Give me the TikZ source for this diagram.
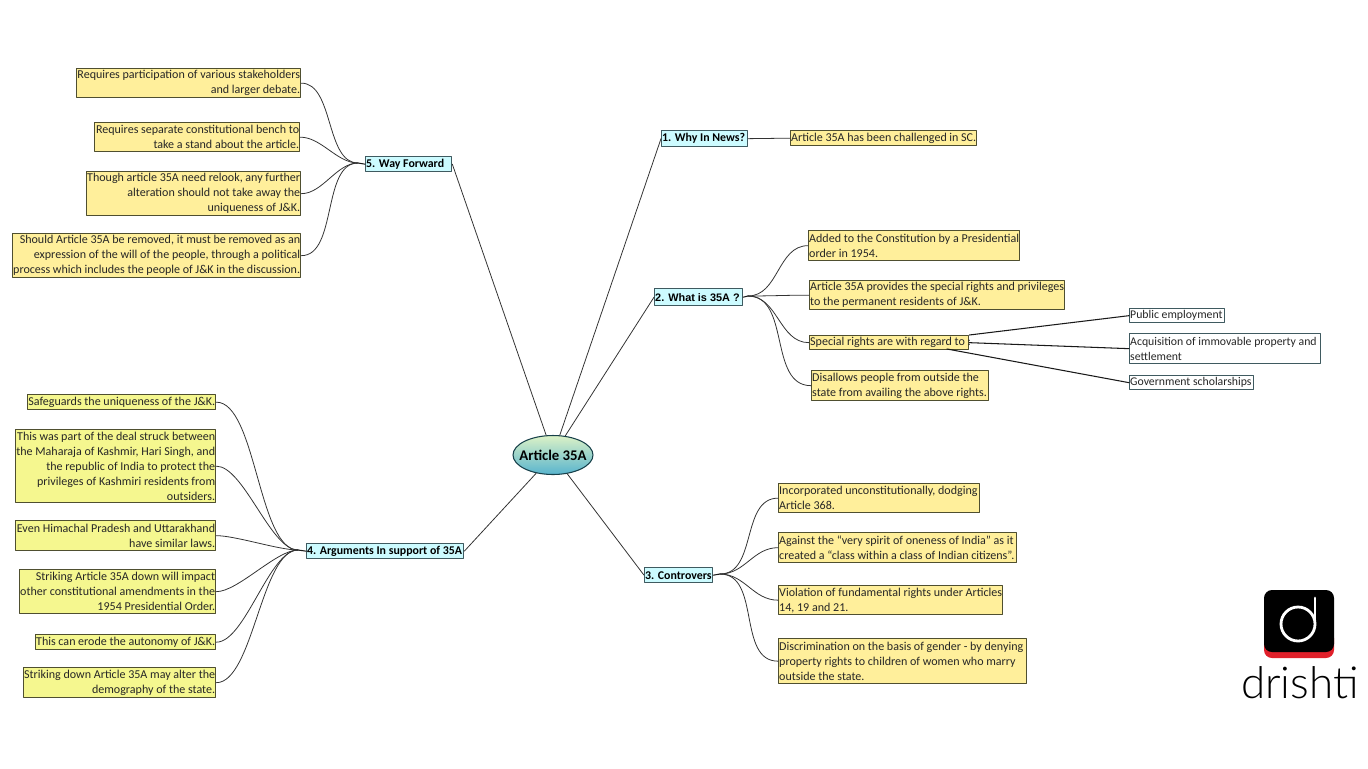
\documentclass[tikz,border=0pt]{standalone}
\usepackage{fontspec}
\usetikzlibrary{shapes.geometric}
\setmainfont{Carlito}
\newfontfamily\arialfont{Liberation Sans}
\newfontfamily\logofont[UprightFont=* Light]{Lato}
\begin{document}
\begin{tikzpicture}[x=0.02cm,y=-0.02cm,line join=round,line cap=round]
	\definecolor{note edge}{HTML}{4F4F30}
	\definecolor{warm note}{HTML}{FFEF9B}
	\definecolor{lime note}{HTML}{F5F78F}
	\definecolor{hub fill}{HTML}{CCFBFF}
	\definecolor{hub edge}{HTML}{3F5A60}
	\definecolor{root edge}{HTML}{17404A}
	\definecolor{root top}{HTML}{DCF2C6}
	\definecolor{root bottom}{HTML}{58B4CE}
	\definecolor{logo red}{HTML}{E0202A}
	\tikzset{sized/.style 2 args={text width=#1*0.02cm-0.6pt,minimum height=#2*0.02cm,anchor=north west,inner sep=0.3pt},
		note/.style={draw=note edge,line width=0.75pt,text=black!85,font=\fontsize{6.85}{8.5}\selectfont},
		warm/.style={note,fill=warm note,align=flush left},
		warmr/.style={note,fill=warm note,align=flush right},
		lime/.style={note,fill=lime note,align=flush right},
		plain/.style={draw=hub edge,line width=0.75pt,fill=white,align=flush left,text=black!85,font=\fontsize{6.7}{8.5}\selectfont},
		hub/.style={draw=hub edge,line width=0.75pt,fill=hub fill,align=flush left,font=\fontsize{6.75}{8}\selectfont\bfseries},
		branch/.style={black!80,line width=0.45pt},
		twig/.style={black!90,line width=0.6pt}}
	\node[draw=root edge,line width=0.6pt,ellipse,minimum width=80*0.02cm,minimum height=39*0.02cm,inner xsep=-0.125cm,inner ysep=0pt,top color=root top,bottom color=root bottom,font=\fontsize{8.4}{9}\selectfont\bfseries] (root) at (553,455) {Article 35A};
	% hubs
	\node[hub,sized={86}{15}] (wf) at (365,156) {5. Way Forward};
	\node[hub,sized={86}{16}] (news) at (661,130) {1. Why In News?};
	\node[hub,sized={88}{17},font=\arialfont\fontsize{6.2}{8}\selectfont\bfseries] (what) at (654,288) {2. What is 35A ?};
	\node[hub,sized={68}{15}] (contr) at (644,567) {3. Controvers};
	\node[hub,sized={157}{15}] (args) at (306,543) {4. Arguments In support of 35A};
	% joins
	\coordinate (wfjoin) at (358,163);
	\coordinate (whatjoin) at (748,296);
	\coordinate (contrjoin) at (720,574);
	\coordinate (argsjoin) at (298,550);
	\coordinate (specfoot) at (947,349);
	% way forward
	\node[warmr,sized={224}{29}] (wfa) at (76,68) {Requires participation of various stakeholders\\and larger debate.};
	\node[warmr,sized={205}{29}] (wfb) at (94,122) {Requires separate constitutional bench to\\take a stand about the article.};
	\node[warmr,sized={214}{44}] (wfc) at (86,171) {Though article 35A need relook, any further\\alteration should not take away the\\uniqueness of J\&K.};
	\node[warmr,sized={288}{44}] (wfd) at (12,233) {Should Article 35A be removed, it must be removed as an\\expression of the will of the people, through a political\\process which includes the people of J\&K in the discussion.};
	% news
	\node[warm,sized={186}{15}] (newsa) at (790,130) {Article 35A has been challenged in SC.};
	% what is
	\node[warm,sized={211}{30}] (whata) at (808,230) {Added to the Constitution by a Presidential\\order in 1954.};
	\node[warm,sized={255}{29}] (whatb) at (809,280) {Article 35A provides the special rights and privileges\\to the permanent residents of J\&K.};
	\node[warm,sized={159}{14}] (whatc) at (809,335) {\mbox{Special rights are with regard to :}};
	\node[warm,sized={177}{30}] (whatd) at (811,370) {Disallows people from outside the\\state from availing the above rights.};
	\node[plain,sized={95}{14}] (pub) at (1129,308) {\mbox{Public employment}};
	\node[plain,sized={191}{30}] (acq) at (1129,333) {Acquisition of immovable property and\\settlement};
	\node[plain,sized={124}{14}] (gov) at (1129,375) {\mbox{Government scholarships}};
	% controversy
	\node[warm,sized={201}{29}] (cona) at (778,483) {Incorporated unconstitutionally, dodging\\Article 368.};
	\node[warm,sized={238}{30}] (conb) at (778,532) {Against the “very spirit of oneness of India” as it\\created a “class within a class of Indian citizens”.};
	\node[warm,sized={224}{29}] (conc) at (778,585) {Violation of fundamental rights under Articles\\14, 19 and 21.};
	\node[warm,sized={248}{45}] (cond) at (778,638) {Discrimination on the basis of gender -  by denying\\property rights to children of women who marry\\outside the state.};
	% arguments
	\node[lime,sized={188}{15}] (arga) at (27,394) {Safeguards the uniqueness of the J\&K.};
	\node[lime,sized={200}{73}] (argb) at (15,429) {This was part of the deal struck between\\the Maharaja of Kashmir, Hari Singh, and\\the republic of India to protect the\\privileges of Kashmiri residents from\\outsiders.};
	\node[lime,sized={200}{30}] (argc) at (15,520) {Even Himachal Pradesh and Uttarakhand\\have similar laws.};
	\node[lime,sized={196}{44}] (argd) at (19,569) {Striking Article 35A down will impact\\other constitutional amendments in the\\1954 Presidential Order.};
	\node[lime,sized={180}{15}] (arge) at (35,634) {This can erode the autonomy of J\&K.};
	\node[lime,sized={192}{30}] (argf) at (23,667) {Striking down Article 35A may alter the\\demography of the state.};
	% links
	\draw[branch] (root) -- (wf.east);
	\draw[branch] (root) -- (news.west);
	\draw[branch] (root) -- (what.west);
	\draw[branch] (root) -- (contr.west);
	\draw[branch] (root) -- (args.east);
	\draw[branch] (news.east) -- (newsa.west);
	\foreach \leaf in {wfa,wfb,wfc,wfd}
		\draw[branch] (\leaf.east) to[out=0,in=180,looseness=0.85] (wfjoin);
	\foreach \leaf in {arga,argb,argc,argd,arge,argf}
		\draw[branch] (\leaf.east) to[out=0,in=180,looseness=0.6] (argsjoin);
	\foreach \leaf in {whata,whatb,whatc,whatd}
		\draw[branch] (whatjoin) to[out=0,in=180] (\leaf.west);
	\foreach \leaf in {cona,conb,conc,cond}
		\draw[branch] (contrjoin) to[out=0,in=180] (\leaf.west);
	\draw[twig] (wfjoin) -- (wf.west) (argsjoin) -- (args.west) (whatjoin) -- (what.east) (contrjoin) -- (contr.east);
	\draw[twig] (whatc.north east) -- (pub.west);
	\draw[twig] (whatc.east) -- (acq.west);
	\draw[twig] (specfoot) -- (gov.west);
	% logo
	\fill[logo red,rounded corners=8*0.02cm] (1264,630) rectangle (1334,658);
	\fill[black,rounded corners=8*0.02cm] (1264,590) rectangle (1334,652);
	\draw[white,line width=1.6pt] (1298,624) circle (17);
	\draw[white,line width=1.6pt] (1315,598) -- (1315,626);
	\node[inner sep=0pt,font=\logofont\fontsize{25}{25}\selectfont] (logo) at (1300,683) {drishti};
	\useasboundingbox (0,0) rectangle (1368,768);
\end{tikzpicture}
\end{document}
